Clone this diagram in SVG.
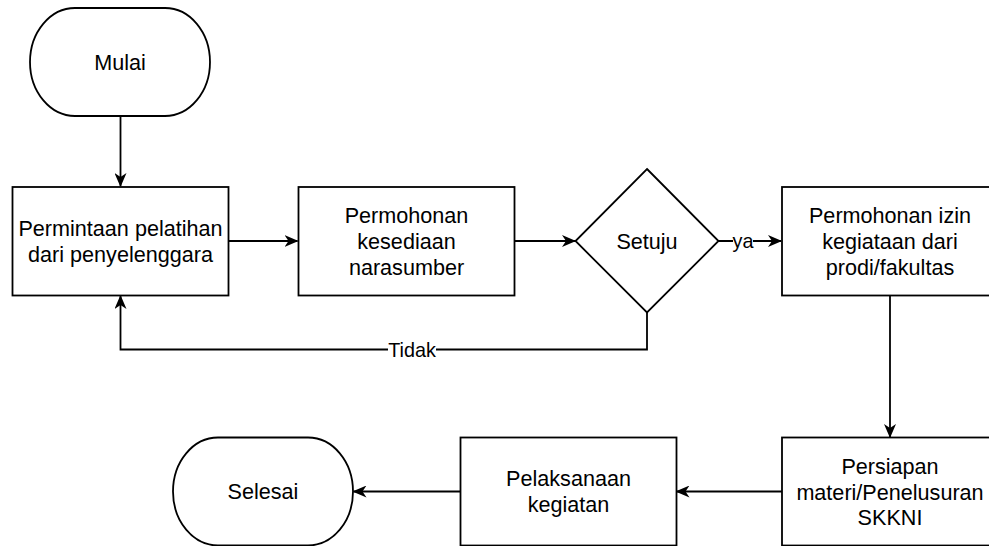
<svg xmlns="http://www.w3.org/2000/svg" width="989" height="546" viewBox="0 0 989 546">
<style>
.shape{fill:#fff;stroke:#000;stroke-width:1.8}
.t{font-family:"Liberation Sans",Arial,Helvetica,sans-serif;font-size:21.6px;fill:#000;text-anchor:middle}
.lbl{font-family:"Liberation Sans",Arial,Helvetica,sans-serif;font-size:19.8px;fill:#000;text-anchor:middle}
.edge{fill:none;stroke:#000;stroke-width:1.8}
</style>
<defs>
<marker id="arr" viewBox="0 0 14 12" refX="13" refY="6" markerWidth="14" markerHeight="12" orient="auto" markerUnits="userSpaceOnUse">
<path d="M0,0 L14,6 L0,12 L4,6 Z" fill="#000"/>
</marker>
</defs>
<rect width="989" height="546" fill="#fff"/>
<g id="edges">
<path class="edge" d="M120.5,116 V186" marker-end="url(#arr)"/>
<path class="edge" d="M228.5,241 H297.5" marker-end="url(#arr)"/>
<path class="edge" d="M514.5,241 H575" marker-end="url(#arr)"/>
<path class="edge" d="M718,241 H781" marker-end="url(#arr)"/>
<path class="edge" d="M890,295.5 V437" marker-end="url(#arr)"/>
<path class="edge" d="M782,491.5 H676.5" marker-end="url(#arr)"/>
<path class="edge" d="M460.5,491.5 H353.5" marker-end="url(#arr)"/>
<path class="edge" d="M647,312 V349.5 H120.5 V296" marker-end="url(#arr)"/>
<rect x="733" y="231" width="20" height="20" fill="#fff"/>
<text class="lbl" x="743" y="248">ya</text>
<rect x="388" y="340" width="48" height="20" fill="#fff"/>
<text class="lbl" x="412" y="357">Tidak</text>
</g>
<g id="mulai">
<rect class="shape" x="30" y="8" width="180" height="108" rx="45" ry="54"/>
<text class="t" x="120" y="69.5">Mulai</text>
</g>
<g id="permintaan">
<rect class="shape" x="12.5" y="187" width="216" height="108.5"/>
<text class="t" x="120.5" y="236">Permintaan pelatihan</text>
<text class="t" x="120.5" y="262">dari penyelenggara</text>
</g>
<g id="kesediaan">
<rect class="shape" x="298.5" y="187" width="216" height="108.5"/>
<text class="t" x="406.5" y="223">Permohonan</text>
<text class="t" x="406.5" y="249">kesediaan</text>
<text class="t" x="406.5" y="275">narasumber</text>
</g>
<g id="setuju">
<polygon class="shape" points="647,169 718.5,241 647,312.5 575.5,241"/>
<text class="t" x="647" y="248.5">Setuju</text>
</g>
<g id="izin">
<rect class="shape" x="782" y="187" width="216" height="108.5"/>
<text class="t" x="890" y="223">Permohonan izin</text>
<text class="t" x="890" y="249">kegiataan dari</text>
<text class="t" x="890" y="275">prodi/fakultas</text>
</g>
<g id="persiapan">
<rect class="shape" x="782" y="437.5" width="216" height="108"/>
<text class="t" x="890" y="474">Persiapan</text>
<text class="t" x="890" y="499.5">materi/Penelusuran</text>
<text class="t" x="890" y="525">SKKNI</text>
</g>
<g id="pelaksanaan">
<rect class="shape" x="460.5" y="437.5" width="216" height="108"/>
<text class="t" x="568.5" y="486">Pelaksanaan</text>
<text class="t" x="568.5" y="512">kegiatan</text>
</g>
<g id="selesai">
<rect class="shape" x="173" y="437.5" width="180" height="108" rx="45" ry="54"/>
<text class="t" x="263" y="499">Selesai</text>
</g>
</svg>
